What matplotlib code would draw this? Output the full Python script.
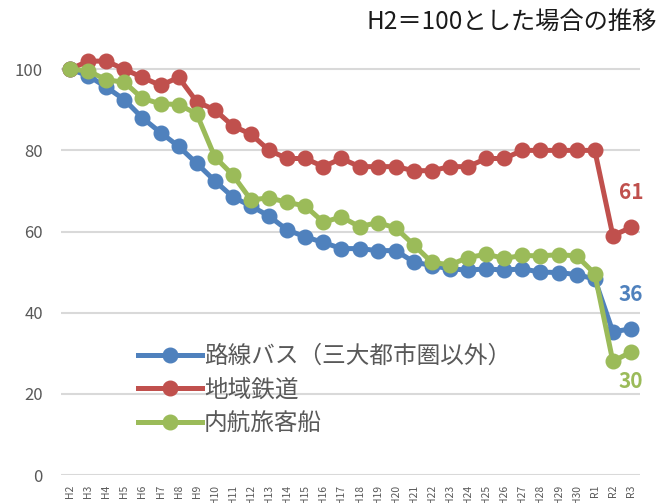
import matplotlib
matplotlib.use("Agg")
import matplotlib.pyplot as plt

plt.rcParams['font.family'] = ['Noto Sans CJK JP', 'DejaVu Sans']

years = ["H2", "H3", "H4", "H5", "H6", "H7", "H8", "H9", "H10", "H11", "H12", "H13",
         "H14", "H15", "H16", "H17", "H18", "H19", "H20", "H21", "H22", "H23", "H24",
         "H25", "H26", "H27", "H28", "H29", "H30", "R1", "R2", "R3"]

bus = [100, 98.4, 95.6, 92.5, 88.0, 84.4, 81.0, 76.8, 72.5, 68.5, 66.3, 63.8,
       60.4, 58.7, 57.3, 55.8, 55.8, 55.3, 55.3, 52.5, 51.6, 50.8, 50.5,
       50.8, 50.5, 50.8, 50.0, 49.9, 49.4, 48.3, 35.3, 36.0]
rail = [100, 102, 102, 100, 98, 96, 98, 92, 90, 86, 84, 80,
        78, 78, 76, 78, 76, 76, 76, 75, 75, 76, 76,
        78, 78, 80, 80, 80, 80, 80, 59, 61]
ship = [100, 99.6, 97.4, 96.8, 92.8, 91.5, 91.3, 89.0, 78.4, 73.9, 67.8, 68.3,
        67.2, 66.3, 62.3, 63.6, 61.2, 62.2, 60.9, 56.7, 52.4, 51.8, 53.6,
        54.4, 53.4, 54.1, 54.0, 54.3, 54.0, 49.6, 28.0, 30.3]

series = [
    ("路線バス（三大都市圏以外）", bus, "#4F81BD"),
    ("地域鉄道", rail, "#C0504D"),
    ("内航旅客船", ship, "#9BBB59"),
]
end_labels = [("36", 36.0, "#4F81BD", 25), ("61", 61, "#C0504D", 25), ("30", 30.3, "#9BBB59", -21)]

fig = plt.figure(figsize=(6.62, 5.03), dpi=100)
ax = fig.add_axes([61/662, 28/503, 579/662, 422/503])

x = list(range(len(years)))
for name, vals, col in series:
    ax.plot(x, vals, color=col, lw=3.6, marker='o', ms=10.5, label=name,
            clip_on=False, zorder=3)

for txt, v, col, off in end_labels:
    ax.annotate(txt, (x[-1], v), xytext=(0, off), textcoords='offset points',
                ha='center', va='center', fontsize=15, fontweight='bold', color=col)

ax.set_xlim(-0.5, len(years) - 0.5)
ax.set_ylim(0, 104)
ax.set_yticks([0, 20, 40, 60, 80, 100])
ax.set_xticks(x)
ax.set_xticklabels(years, rotation=90, fontsize=7.5, color='#595959')
ax.tick_params(axis='y', labelsize=12, colors='#595959', length=0, pad=13)
ax.tick_params(axis='x', length=0, pad=7)
for s in ax.spines.values():
    s.set_visible(False)
ax.grid(axis='y', color='#D9D9D9', lw=1.5)
ax.set_axisbelow(True)

leg = ax.legend(loc='upper left', bbox_to_anchor=(138/662, 1 - 345/503),
                bbox_transform=fig.transFigure, frameon=False, fontsize=17,
                handlelength=2.7, handletextpad=0.1, labelspacing=0.45,
                borderpad=0, borderaxespad=0)
for t in leg.get_texts():
    t.set_color('#595959')

fig.text(657/662, 1 - 22/503, "H2＝100とした場合の推移", ha='right', va='center',
         fontsize=17.5, color='#1a1a1a')

fig.savefig("out.png", dpi=100)
